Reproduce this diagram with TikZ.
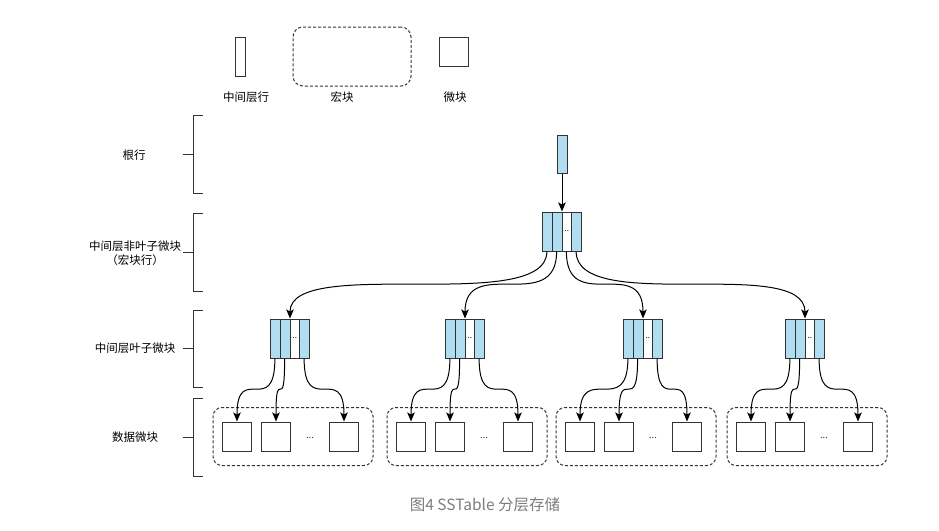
\documentclass[tikz,border=0pt]{standalone}
\usepackage{fontspec}
\setmainfont{Noto Sans CJK SC}
\usetikzlibrary{arrows.meta,calc}
\definecolor{cellblue}{RGB}{177,221,240}
\definecolor{boxline}{RGB}{51,51,51}
\definecolor{capgray}{RGB}{125,125,125}

\begin{document}
\begin{tikzpicture}[
    x=1pt, y=-1pt,
    font=\fontsize{11.5}{14.5}\selectfont,
    arr/.style={-{Stealth[length=9pt,width=7.5pt,inset=2pt]}, line width=1pt},
    box/.style={draw=boxline, line width=1pt, inner sep=0pt},
    rowbar/.style={box, minimum width=10pt, minimum height=39pt},
    blk/.style={
        box,
        fill=white,
        minimum width=39pt,
        minimum height=39pt,
        font=\fontsize{8}{8}\selectfont,
        path picture={
            \fill[cellblue] (path picture bounding box.south west) rectangle ([xshift=19.5pt]path picture bounding box.north west);
            \fill[cellblue] ([xshift=29.25pt]path picture bounding box.south west) rectangle (path picture bounding box.north east);
            \draw[boxline, line width=1pt] ([xshift=9.75pt]path picture bounding box.south west) -- ([xshift=9.75pt]path picture bounding box.north west);
            \draw[boxline, line width=1pt] ([xshift=19.5pt]path picture bounding box.south west) -- ([xshift=19.5pt]path picture bounding box.north west);
            \draw[boxline, line width=1pt] ([xshift=29.25pt]path picture bounding box.south west) -- ([xshift=29.25pt]path picture bounding box.north west);
        }
    },
    micro/.style={box, minimum width=29pt, minimum height=29pt},
    grp/.style={draw=boxline, line width=1pt, dash pattern=on 3pt off 2pt, rounded corners=9pt, minimum width=160pt, minimum height=58pt},
    brk/.style={draw=boxline, line width=1pt},
    lbl/.style={align=center, text=black},
    dotsl/.style={font=\fontsize{9.5}{9.5}\selectfont, text=boxline}
]
\useasboundingbox (0,0) rectangle (939,530);

% légende
\node[rowbar, fill=white] (lgrow) at (240,57) {};
\node[grp, minimum width=118pt, minimum height=59pt, rounded corners=10pt] (lgmacro) at (352,56.5) {};
\node[micro] (lgmicro) at (454,52) {};
\node[lbl] (lgrowt)   at (246,97) {中间层行};
\node[lbl] (lgmacrot) at (342,97) {宏块};
\node[lbl] (lgmicrot) at (455,97) {微块};

% niveaux
\node[lbl] (lvroot) at (134,155) {根行};
\node[lbl] (lvnl)   at (135,253) {中间层非叶子微块\\（宏块行）};
\node[lbl] (lvlf)   at (135,348) {中间层叶子微块};
\node[lbl] (lvdata) at (135,437) {数据微块};
\draw[brk] (203,115) -- (193,115) -- (193,193) -- (203,193) (183,154) -- (193,154);
\draw[brk] (203,213) -- (193,213) -- (193,291) -- (203,291) (183,252) -- (193,252);
\draw[brk] (203,310) -- (193,310) -- (193,387) -- (203,387) (183,348) -- (193,348);
\draw[brk] (203,398) -- (193,398) -- (193,476) -- (203,476) (183,437) -- (193,437);

% racine et non-feuille
\node[rowbar, fill=cellblue, minimum height=38pt] (root) at (562,154) {};
\node[blk] (nl) at (562,231.5) {\hspace*{9.75pt}..};

% feuilles
\node[blk] (lf1) at (290,338.5) {\hspace*{9.75pt}..};
\node[blk] (lf2) at (465,338.5) {\hspace*{9.75pt}..};
\node[blk] (lf3) at (643,338.5) {\hspace*{9.75pt}..};
\node[blk] (lf4) at (805,338.5) {\hspace*{9.75pt}..};

% macro-blocs de données
\node[grp] (g1) at (293,436.5) {};
\node[micro] (d11) at (237,436.5) {};
\node[micro] (d12) at (276,436.5) {};
\node[micro] (d13) at (344,436.5) {};
\node[dotsl] (g1dots) at (310,438) {...};

\node[grp] (g2) at (467,436.5) {};
\node[micro] (d21) at (411,436.5) {};
\node[micro] (d22) at (450,436.5) {};
\node[micro] (d23) at (518,436.5) {};
\node[dotsl] (g2dots) at (484,438) {...};

\node[grp] (g3) at (636,436.5) {};
\node[micro] (d31) at (580,436.5) {};
\node[micro] (d32) at (619,436.5) {};
\node[micro] (d33) at (687,436.5) {};
\node[dotsl] (g3dots) at (653,438) {...};

\node[grp] (g4) at (807,436.5) {};
\node[micro] (d41) at (751,436.5) {};
\node[micro] (d42) at (790,436.5) {};
\node[micro] (d43) at (858,436.5) {};
\node[dotsl] (g4dots) at (824,438) {...};

% flèches
\draw[arr] (root) -- (nl);
\draw[arr] ([xshift=4.875pt]nl.south west)  .. controls +(0,64) and +(0,-64) .. (lf1.north);
\draw[arr] ([xshift=14.625pt]nl.south west) .. controls +(0,64) and +(0,-64) .. (lf2.north);
\draw[arr] ([xshift=24.375pt]nl.south west) .. controls +(0,64) and +(0,-64) .. (lf3.north);
\draw[arr] ([xshift=34.125pt]nl.south west) .. controls +(0,64) and +(0,-64) .. (lf4.north);

\draw[arr] ([xshift=4.875pt]lf1.south west)  .. controls +(0,60) and +(0,-60) .. (d11.north);
\draw[arr] ([xshift=14.625pt]lf1.south west) .. controls +(0,60) and +(0,-60) .. (d12.north);
\draw[arr] ([xshift=34.125pt]lf1.south west) .. controls +(0,60) and +(0,-60) .. (d13.north);
\draw[arr] ([xshift=4.875pt]lf2.south west)  .. controls +(0,60) and +(0,-60) .. (d21.north);
\draw[arr] ([xshift=14.625pt]lf2.south west) .. controls +(0,60) and +(0,-60) .. (d22.north);
\draw[arr] ([xshift=34.125pt]lf2.south west) .. controls +(0,60) and +(0,-60) .. (d23.north);
\draw[arr] ([xshift=4.875pt]lf3.south west)  .. controls +(0,60) and +(0,-60) .. (d31.north);
\draw[arr] ([xshift=14.625pt]lf3.south west) .. controls +(0,60) and +(0,-60) .. (d32.north);
\draw[arr] ([xshift=34.125pt]lf3.south west) .. controls +(0,60) and +(0,-60) .. (d33.north);
\draw[arr] ([xshift=4.875pt]lf4.south west)  .. controls +(0,60) and +(0,-60) .. (d41.north);
\draw[arr] ([xshift=14.625pt]lf4.south west) .. controls +(0,60) and +(0,-60) .. (d42.north);
\draw[arr] ([xshift=34.125pt]lf4.south west) .. controls +(0,60) and +(0,-60) .. (d43.north);

% légende de la figure
\node[text=capgray, font=\fontsize{15.5}{18}\selectfont] (cap) at (485,505) {图4 SSTable 分层存储};

\end{tikzpicture}
\end{document}
